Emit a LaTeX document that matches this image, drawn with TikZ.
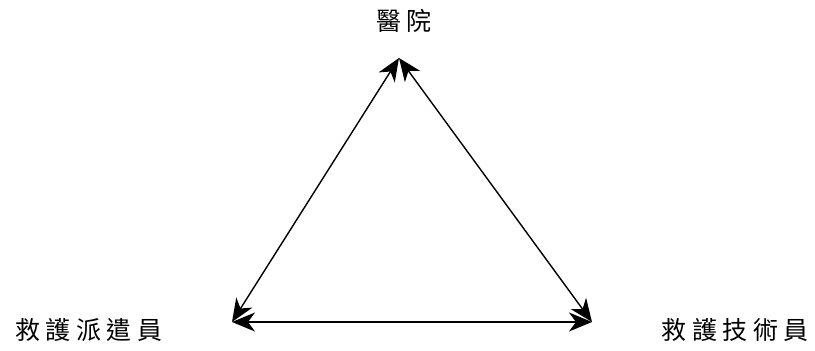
\documentclass[tikz,border=0pt]{standalone}
\usepackage{fontspec}
\newfontfamily\cjk[LetterSpace=22]{Noto Sans CJK TC}
\usetikzlibrary{arrows.meta}
\tikzset{
  role/.style = {font=\cjk\fontsize{25}{29}\selectfont, inner sep=0pt},
  link/.style = {{Stealth[length=23pt, width=19pt, inset=7pt]}-{Stealth[length=23pt, width=19pt, inset=7pt]},
                 line width=1.4pt, draw=black}
}

\begin{document}
\begin{tikzpicture}[x=1pt, y=-1pt]
\useasboundingbox (0,0) rectangle (815,351);
\node[role] (hospital)   at (404,21)  {醫院};
\node[role] (dispatcher) at (89,330)  {救護派遣員};
\node[role] (emt)        at (735,330) {救護技術員};
\coordinate (top)   at (399,58);
\coordinate (left)  at (232,322);
\coordinate (right) at (592,322);
\draw[link] (left)  -- (top);
\draw[link] (top)   -- (right);
\draw[link] (left)  -- (right);
\end{tikzpicture}
\end{document}
